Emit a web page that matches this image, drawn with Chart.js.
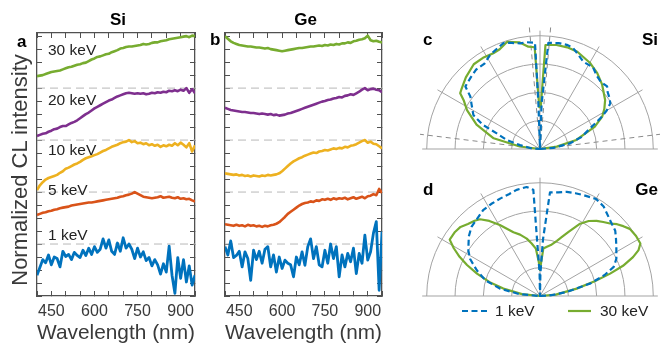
<!DOCTYPE html>
<html>
<head>
<meta charset="utf-8">
<script src="https://cdn.jsdelivr.net/npm/chart.js@4.4.1/dist/chart.umd.min.js"></script>
<style>
  body { margin: 0; background: #fff; }
  #fig { position: relative; width: 660px; height: 347px; overflow: hidden; }
  #fig canvas { position: absolute; }
  #overlay { position: absolute; left: 0; top: 0; pointer-events: none; font-family: 'Liberation Sans', Arial, sans-serif; }
</style>
</head>
<body>
<div id="fig">
  <canvas id="si-spectra" width="206" height="347" style="left:0;top:0"></canvas>
  <canvas id="ge-spectra" width="205" height="347" style="left:188px;top:0"></canvas>
  <canvas id="si-polar" width="240" height="132" style="left:420px;top:24px"></canvas>
  <canvas id="ge-polar" width="240" height="132" style="left:420px;top:171px"></canvas>
  <svg id="overlay" width="660" height="347">
    <text transform="translate(27,170) rotate(-90)" text-anchor="middle" font-size="22" fill="#3a3a3a">Normalized CL intensity</text>
    <g font-weight="bold" font-size="17" fill="#000">
      <text x="118" y="25" text-anchor="middle">Si</text>
      <text x="305.5" y="25" text-anchor="middle">Ge</text>
      <text x="17" y="47">a</text>
      <text x="210" y="45">b</text>
      <text x="423" y="45">c</text>
      <text x="423" y="195">d</text>
      <text x="658" y="45" text-anchor="end">Si</text>
      <text x="658" y="195" text-anchor="end">Ge</text>
    </g>
    <g id="kev-labels" font-size="15.5" fill="#222"></g>
    <g id="legend" font-size="15.5" fill="#222"></g>
  </svg>
</div>
<script>
// wavelength grid (nm) shared by all spectra
const wavelength = [400,410,420,430,440,450,460,470,480,490,500,510,520,530,540,550,560,570,580,590,
  600,610,620,630,640,650,660,670,680,690,700,710,720,730,740,750,760,770,780,790,
  800,810,820,830,840,850,860,870,880,890,900,910,920,930,940,950];

// Si spectra, normalized (panel a)
const siKeV1 = [.40,.55,.70,.64,.79,.60,.75,.72,.56,.86,.76,.80,.70,.84,.78,.74,.88,.78,.92,.80,
  .95,.84,.90,1.10,.92,1.08,.86,.80,1.02,.86,1.12,.92,1.00,.90,.72,.92,.75,.85,.68,.74,
  .58,.70,.60,.42,.62,.46,.96,.40,.05,.74,.34,.70,.27,.58,.21,.40];
const siKeV5 = [.56,.58,.60,.61,.63,.64,.66,.67,.69,.70,.71,.72,.74,.75,.76,.77,.78,.79,.80,.80,
  .81,.82,.83,.84,.85,.86,.87,.88,.89,.91,.92,.94,.95,.97,1.0,.97,.94,.91,.90,.89,
  .88,.89,.90,.92,.89,.90,.91,.89,.88,.90,.87,.88,.86,.87,.84,.82];
const siKeV10 = [.04,.13,.19,.24,.27,.29,.31,.33,.37,.40,.45,.47,.50,.53,.55,.58,.62,.65,.67,.69,
  .71,.73,.76,.79,.81,.84,.87,.89,.91,.94,.96,.97,1.0,.96,.98,.94,.95,.92,.94,.90,
  .92,.89,.91,.87,.90,.88,.91,.89,.94,.90,.95,.91,.86,.94,.78,.90];
const siKeV20 = [.08,.10,.12,.13,.16,.18,.21,.22,.25,.27,.27,.30,.33,.35,.38,.42,.46,.50,.53,.57,
  .61,.64,.67,.70,.73,.76,.78,.81,.84,.86,.88,.90,.91,.90,.89,.90,.89,.90,.88,.89,
  .91,.90,.92,.91,.93,.92,.95,.94,.96,.94,.97,.95,1.0,.91,.98,.90];
const siKeV30 = [.23,.24,.25,.27,.29,.31,.32,.33,.34,.36,.38,.40,.41,.43,.45,.46,.48,.49,.52,.55,
  .57,.60,.61,.63,.65,.66,.69,.71,.73,.76,.77,.79,.80,.80,.81,.82,.83,.85,.84,.85,
  .87,.88,.88,.90,.91,.92,.94,.95,.96,.97,.98,.99,1.0,.98,1.01,1.0];

// Ge spectra, normalized (panel b)
const geKeV1 = [.95,.79,1.06,.74,.78,.86,.56,.85,.72,.30,.88,.70,.86,.63,.90,.95,.56,.79,.46,.75,
  .53,.69,.63,.60,.37,.75,.60,.85,.59,.95,1.10,.72,.95,.60,.56,.88,.63,1.0,.72,.95,
  .37,.79,.56,.82,.66,.92,.43,.82,.63,1.17,.69,.85,1.21,1.43,.11,1.24];
const geKeV5 = [.38,.37,.36,.35,.37,.35,.36,.34,.37,.35,.36,.34,.35,.33,.35,.34,.36,.37,.39,.42,
  .47,.52,.58,.62,.66,.70,.74,.77,.79,.80,.82,.81,.84,.83,.86,.85,.87,.85,.88,.86,
  .88,.87,.89,.86,.88,.90,.87,.89,.91,.88,.92,.93,.96,.94,1.06,.98];
const geKeV10 = [.36,.35,.34,.33,.34,.32,.33,.31,.32,.30,.32,.31,.30,.32,.31,.33,.32,.33,.34,.36,
  .40,.45,.50,.55,.59,.62,.65,.67,.70,.72,.74,.76,.75,.78,.79,.81,.80,.82,.84,.83,
  .85,.84,.87,.86,.89,.90,.92,.95,.98,1.0,.95,.97,.93,.92,.88,.84];
const geKeV20 = [.62,.60,.58,.57,.56,.55,.54,.54,.53,.52,.52,.51,.50,.51,.50,.49,.50,.48,.49,.47,
  .48,.49,.51,.52,.54,.56,.58,.60,.62,.64,.66,.68,.70,.72,.74,.75,.77,.78,.80,.81,
  .83,.82,.85,.86,.88,.87,.90,.93,.97,1.0,.96,.98,.99,.97,.96,.92];
const geKeV30 = [1.0,.95,.90,.87,.85,.83,.82,.81,.80,.80,.79,.78,.78,.77,.76,.77,.75,.74,.73,.72,
  .71,.72,.73,.74,.75,.76,.77,.77,.78,.79,.80,.80,.81,.82,.81,.83,.82,.84,.83,.85,
  .84,.86,.86,.88,.87,.90,.91,.93,.94,.96,1.01,.92,.90,.91,.89,.88];

const keVLabels = ['1 keV', '5 keV', '10 keV', '20 keV', '30 keV'];
const keVColors = ['#0072BD', '#D95319', '#EDB120', '#7E2F8E', '#77AC30'];
const stackOffsets = [0, 1, 2, 3, 4];
const refLevels = [1, 2, 3, 4];
const xMin = 400, xMax = 950;
const xTicks = [400,450,500,550,600,650,700,750,800,850,900,950];
const xLabeled = [450, 600, 750, 900];
const yTicks = [0,.25,.5,.75,1,1.25,1.5,1.75,2,2.25,2.5,2.75,3,3.25,3.5,3.75,4,4.25,4.5,4.75,5];

// angular emission patterns: polar angle (deg) and normalized intensity
const siAngle1 = [0,5,10.7,16,22.5,27,30,33,36,40,43,48,52.5,57,63.6,68,72,75.6,80,85.5,88,90,92,92.7,97,100.7,105,109,114,118,123,128.7,134,140,143,147,153,157,160,165,169,175,180];
const siRadius1 = [0,.12,.27,.38,.48,.60,.68,.74,.76,.78,.81,.80,.82,.86,.86,.90,.94,.95,.95,.94,.40,0,.40,.94,.95,.95,.97,.99,.96,.94,.90,.90,.88,.86,.77,.72,.66,.55,.41,.30,.18,.08,0];
const siAngle30 = [0,8,14,22,27.6,32,37,46,53,60,69,75,81,87,89,91,93,96.5,101,107,112,116,122,128,136,143,145,147.4,152,159,167,173,180];
const siRadius30 = [0,.15,.33,.52,.62,.67,.72,.79,.84,.88,.92,.93,.93,.92,.37,.37,.90,.91,.96,.99,.95,.94,.95,.95,.91,.87,.86,.80,.73,.60,.42,.18,0];
const geAngle1 = [0,4,8.5,14,18,21.6,26,32.6,37,41,47,54.6,60,66.7,71,75.6,80,84.5,87,89,90,91,93,93.6,97,102.4,107,112,118,123.5,129,134.7,140,144,147.5,152,158,164,169.5,175,180];
const geRadius1 = [0,.10,.24,.46,.60,.70,.75,.80,.84,.88,.91,.97,.99,.97,.96,.95,.93,.92,.50,.20,0,.20,.50,.94,.97,.96,.94,.93,.92,.91,.88,.86,.82,.78,.75,.70,.60,.50,.36,.18,0];
const geAngle30 = [0,5,11.4,15,17.7,20,22.7,25,27.6,32,36.8,40,43,46,49.5,53,57,61,66,70,73,78,82,86,88,90,92,95,99,103,108,112.6,119.5,124,128,131,135,139,143,148,151,154,157,160.5,165,168.6,174,180];
const geRadius30 = [0,.14,.33,.50,.65,.78,.89,.96,1.0,1.0,.99,.96,.93,.89,.86,.83,.79,.73,.62,.55,.51,.46,.44,.42,.30,.23,.30,.42,.47,.52,.57,.61,.72,.80,.86,.88,.90,.93,.94,.94,.87,.79,.70,.59,.45,.33,.16,0];

const ringRadii = [0.25, 0.5, 0.75, 1];
const spokeAngles = [30, 60, 90, 120, 150];
const siCriticalAngles = [7, 85, 95, 173];

Chart.defaults.font.family = "'Liberation Sans', Arial, sans-serif";
Chart.defaults.color = '#3a3a3a';

const frameColor = '#505050';
const tickGrid = { drawOnChartArea: false, tickLength: -5, tickColor: frameColor, tickWidth: 1 };
const frameBorder = { color: frameColor, width: 1.3 };

function spectraPanel(id, series) {
  const datasets = refLevels.map(level => ({
    data: [{ x: xMin, y: level }, { x: xMax, y: level }],
    borderColor: '#b8b8b8', borderWidth: 1, borderDash: [8, 5], order: 10,
  }));
  series.forEach((vals, i) => {
    datasets.push({
      label: keVLabels[i],
      data: vals.map((v, j) => ({ x: wavelength[j], y: v + stackOffsets[i] })),
      borderColor: keVColors[i],
      borderWidth: i === 0 ? 2.8 : 2.6,
      order: 5 - i,
    });
  });

  return new Chart(document.getElementById(id), {
    type: 'scatter',
    data: { datasets },
    options: {
      responsive: false,
      animation: false,
      events: [],
      showLine: true,
      layout: { padding: 0 },
      elements: { point: { radius: 0 }, line: { tension: 0, borderJoinStyle: 'round', fill: false } },
      plugins: { legend: { display: false }, tooltip: { enabled: false } },
      scales: {
        x: {
          type: 'linear', position: 'bottom', min: xMin, max: xMax,
          afterBuildTicks: s => { s.ticks = xTicks.map(v => ({ value: v })); },
          afterFit: s => { s.height = 51; },
          grid: tickGrid, border: frameBorder,
          ticks: {
            autoSkip: false, maxRotation: 0, padding: 11,
            font: { size: 16 }, color: '#3a3a3a',
            callback: v => xLabeled.includes(v) ? String(v) : '',
          },
          title: { display: true, text: 'Wavelength (nm)', font: { size: 21 }, color: '#3a3a3a', padding: { top: 0, bottom: 1 } },
        },
        xTop: {
          type: 'linear', position: 'top', min: xMin, max: xMax,
          afterBuildTicks: s => { s.ticks = xTicks.map(v => ({ value: v })); },
          afterFit: s => { s.height = 33; },
          grid: tickGrid, border: frameBorder, ticks: { display: false },
        },
        y: {
          type: 'linear', position: 'left', min: 0, max: 5.06,
          afterBuildTicks: s => { s.ticks = yTicks.map(v => ({ value: v })); },
          afterFit: s => { s.width = 37; },
          grid: tickGrid, border: frameBorder, ticks: { display: false },
        },
        yRight: {
          type: 'linear', position: 'right', min: 0, max: 5.06,
          afterBuildTicks: s => { s.ticks = yTicks.map(v => ({ value: v })); },
          afterFit: s => { s.width = 6; },
          grid: tickGrid, border: frameBorder, ticks: { display: false },
        },
      },
    },
  });
}

spectraPanel('si-spectra', [siKeV1, siKeV5, siKeV10, siKeV20, siKeV30]);
spectraPanel('ge-spectra', [geKeV1, geKeV5, geKeV10, geKeV20, geKeV30]);

// half-polar grid drawn through the chart scales
const polarGrid = {
  id: 'polarGrid',
  beforeDatasetsDraw(chart, args, opts) {
    const { ctx } = chart;
    const xs = chart.scales.x, ys = chart.scales.y;
    const cx = xs.getPixelForValue(0), cy = ys.getPixelForValue(0);
    const unit = xs.getPixelForValue(1) - cx;
    const ray = (deg, r) => [cx + r * unit * Math.cos(deg * Math.PI / 180), cy - r * unit * Math.sin(deg * Math.PI / 180)];
    ctx.save();
    ctx.strokeStyle = '#a3a3a3';
    ctx.lineWidth = 1;
    ringRadii.forEach(r => {
      ctx.beginPath();
      ctx.arc(cx, cy, r * unit, Math.PI, 2 * Math.PI);
      ctx.stroke();
    });
    spokeAngles.forEach(a => {
      const [px, py] = ray(a, 1.045);
      ctx.beginPath(); ctx.moveTo(cx, cy); ctx.lineTo(px, py); ctx.stroke();
    });
    ctx.beginPath();
    ctx.moveTo(xs.getPixelForValue(-1.04), cy);
    ctx.lineTo(xs.getPixelForValue(1.04), cy);
    ctx.stroke();
    ctx.setLineDash([5, 4]);
    ctx.strokeStyle = '#8a8a8a';
    (opts.dashAngles || []).forEach(a => {
      const [px, py] = ray(a, 1.08);
      ctx.beginPath(); ctx.moveTo(cx, cy); ctx.lineTo(px, py); ctx.stroke();
    });
    ctx.restore();
  },
};

const toXY = (angles, radii) => angles.map((a, i) => ({
  x: radii[i] * Math.cos(a * Math.PI / 180),
  y: radii[i] * Math.sin(a * Math.PI / 180),
}));

function polarPanel(id, angle1, radius1, angle30, radius30, dashAngles) {
  return new Chart(document.getElementById(id), {
    type: 'scatter',
    data: {
      datasets: [
        { label: '1 keV', data: toXY(angle1, radius1), borderColor: '#0072BD', borderWidth: 2.2, borderDash: [6, 3.5], order: 1 },
        { label: '30 keV', data: toXY(angle30, radius30), borderColor: '#77AC30', borderWidth: 2.2, order: 2 },
      ],
    },
    options: {
      responsive: false,
      animation: false,
      events: [],
      showLine: true,
      layout: { padding: { left: 2.2, right: 2.2, top: 5, bottom: 7 } },
      elements: { point: { radius: 0 }, line: { tension: 0, borderJoinStyle: 'round' } },
      datasets: { scatter: { clip: false } },
      plugins: { legend: { display: false }, tooltip: { enabled: false }, polarGrid: { dashAngles } },
      scales: {
        x: { type: 'linear', min: -1.04, max: 1.04, display: false },
        y: { type: 'linear', min: 0, max: 1.06, display: false },
      },
    },
    plugins: [polarGrid],
  });
}

polarPanel('si-polar', siAngle1, siRadius1, siAngle30, siRadius30, siCriticalAngles);
polarPanel('ge-polar', geAngle1, geRadius1, geAngle30, geRadius30, []);

// keV labels in panel a and the legend under panel d
const svgNS = 'http://www.w3.org/2000/svg';
const kevBaselines = [240, 195, 155, 105, 55];
const kevGroup = document.getElementById('kev-labels');
keVLabels.forEach((t, i) => {
  const el = document.createElementNS(svgNS, 'text');
  el.setAttribute('x', 48);
  el.setAttribute('y', kevBaselines[i]);
  el.textContent = t;
  kevGroup.appendChild(el);
});

const legendGroup = document.getElementById('legend');
const legendItems = [
  { text: '1 keV', color: '#0072BD', dash: '6 3.5', x0: 462, x1: 487, tx: 495 },
  { text: '30 keV', color: '#77AC30', dash: '', x0: 568, x1: 591, tx: 600 },
];
legendItems.forEach(item => {
  const ln = document.createElementNS(svgNS, 'line');
  ln.setAttribute('x1', item.x0); ln.setAttribute('x2', item.x1);
  ln.setAttribute('y1', 311); ln.setAttribute('y2', 311);
  ln.setAttribute('stroke', item.color); ln.setAttribute('stroke-width', 2.2);
  if (item.dash) ln.setAttribute('stroke-dasharray', item.dash);
  legendGroup.appendChild(ln);
  const tx = document.createElementNS(svgNS, 'text');
  tx.setAttribute('x', item.tx); tx.setAttribute('y', 316);
  tx.textContent = item.text;
  legendGroup.appendChild(tx);
});
</script>
</body>
</html>
